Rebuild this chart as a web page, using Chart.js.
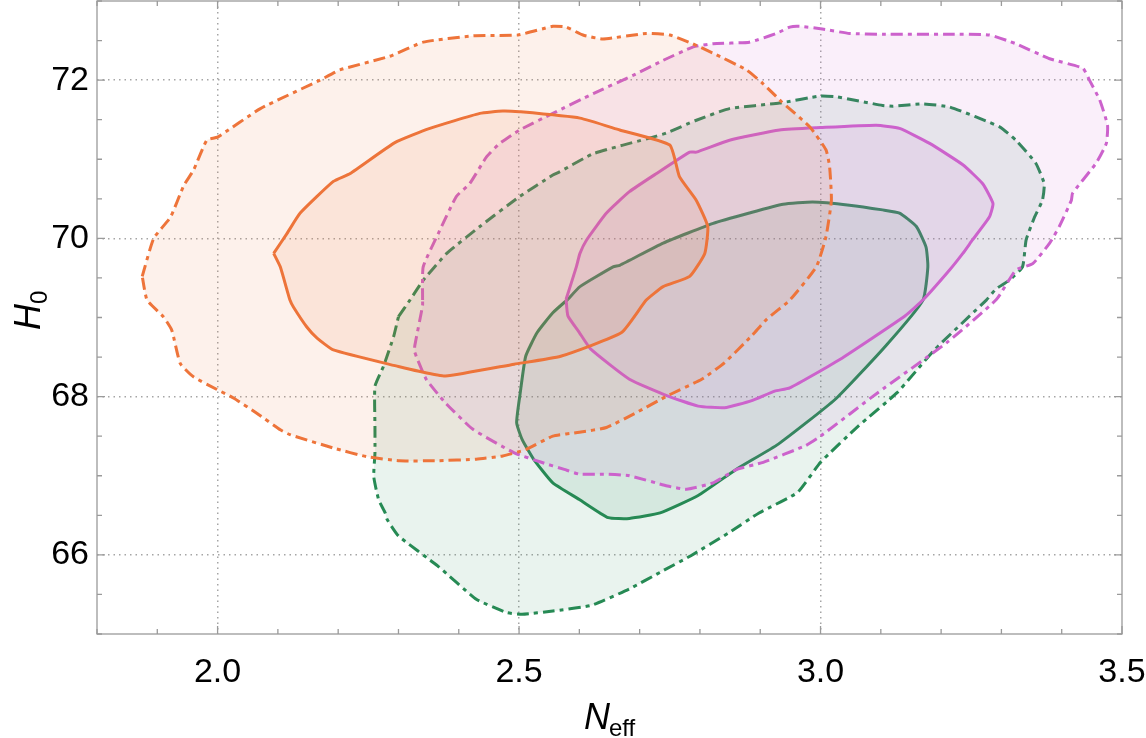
<!DOCTYPE html>
<html>
<head>
<meta charset="utf-8">
<script src="https://cdn.jsdelivr.net/npm/chart.js@4.4.1/dist/chart.umd.min.js"></script>
<style>
    body { margin: 0; background: #fff; }
    #wrap { width: 1146px; height: 738px; position: relative; }
</style>
</head>
<body>
<div id="wrap"><canvas id="contourChart"></canvas></div>
<script>
// Axis ticks (only these get a label and a dotted grid line)
const xTickLabels = ["2.0", "2.5", "3.0", "3.5"];
const yTickLabels = ["66", "68", "70", "72"];

// Contours: N_eff values and H0 values
const orange95N = [1.875, 1.894, 1.922, 1.944, 1.960, 1.982, 2.000, 2.071, 2.170, 2.203, 2.285, 2.341, 2.424, 2.498, 2.556, 2.578, 2.606, 2.639, 2.711, 2.750, 2.788, 2.822, 2.877, 2.904, 2.935, 2.982, 3.009, 3.015, 3.018, 3.009, 2.993, 2.949, 2.911, 2.886, 2.841, 2.803, 2.746, 2.695, 2.645, 2.600, 2.556, 2.511, 2.473, 2.429, 2.365, 2.302, 2.248, 2.192, 2.120, 2.104, 2.065, 2.027, 1.999, 1.960, 1.938, 1.924, 1.910, 1.883];
const orange95H = [69.52, 70.00, 70.27, 70.67, 70.86, 71.24, 71.28, 71.64, 72.00, 72.13, 72.30, 72.48, 72.56, 72.57, 72.68, 72.67, 72.57, 72.52, 72.59, 72.57, 72.46, 72.34, 72.13, 71.96, 71.73, 71.41, 71.12, 70.91, 70.48, 70.02, 69.64, 69.22, 68.98, 68.77, 68.43, 68.22, 68.01, 67.80, 67.61, 67.55, 67.50, 67.33, 67.25, 67.21, 67.19, 67.19, 67.24, 67.35, 67.52, 67.58, 67.79, 67.98, 68.09, 68.25, 68.42, 68.84, 69.01, 69.22];

const orange68N = [2.093, 2.115, 2.137, 2.192, 2.220, 2.294, 2.352, 2.435, 2.473, 2.501, 2.601, 2.667, 2.750, 2.766, 2.794, 2.813, 2.808, 2.783, 2.739, 2.711, 2.670, 2.569, 2.492, 2.378, 2.334, 2.300, 2.192, 2.165, 2.148, 2.126, 2.120, 2.104];
const orange68H = [69.81, 70.06, 70.32, 70.72, 70.82, 71.21, 71.39, 71.58, 71.61, 71.60, 71.52, 71.37, 71.18, 70.78, 70.48, 70.15, 69.81, 69.52, 69.39, 69.22, 68.81, 68.51, 68.41, 68.26, 68.32, 68.38, 68.59, 68.74, 68.88, 69.13, 69.22, 69.64];

const violet95N = [2.340, 2.341, 2.366, 2.396, 2.418, 2.446, 2.468, 2.501, 2.556, 2.623, 2.689, 2.739, 2.789, 2.822, 2.882, 2.927, 2.949, 2.965, 3.000, 3.048, 3.103, 3.214, 3.280, 3.324, 3.380, 3.435, 3.446, 3.463, 3.476, 3.474, 3.457, 3.418, 3.416, 3.396, 3.380, 3.352, 3.324, 3.292, 3.209, 3.095, 3.000, 2.975, 2.905, 2.861, 2.822, 2.778, 2.746, 2.683, 2.645, 2.600, 2.575, 2.537, 2.492, 2.423, 2.378, 2.346, 2.327, 2.327, 2.340];
const violet95H = [69.22, 69.64, 70.06, 70.53, 70.69, 71.03, 71.20, 71.37, 71.58, 71.83, 72.06, 72.25, 72.42, 72.46, 72.48, 72.59, 72.67, 72.68, 72.65, 72.59, 72.58, 72.58, 72.57, 72.46, 72.27, 72.15, 72.00, 71.75, 71.43, 71.20, 70.95, 70.57, 70.48, 70.15, 69.94, 69.68, 69.60, 69.23, 68.68, 68.05, 67.50, 67.38, 67.17, 67.08, 66.91, 66.83, 66.87, 67.00, 67.02, 67.02, 67.08, 67.17, 67.29, 67.59, 67.92, 68.22, 68.56, 68.64, 69.15];

const violet68N = [2.578, 2.595, 2.601, 2.612, 2.645, 2.683, 2.728, 2.783, 2.794, 2.849, 2.932, 3.000, 3.092, 3.131, 3.181, 3.236, 3.269, 3.286, 3.280, 3.252, 3.236, 3.214, 3.171, 3.140, 3.032, 2.949, 2.924, 2.886, 2.841, 2.797, 2.746, 2.683, 2.619, 2.600, 2.581];
const violet68H = [69.23, 69.64, 69.81, 69.98, 70.32, 70.59, 70.82, 71.09, 71.09, 71.24, 71.37, 71.40, 71.43, 71.39, 71.20, 70.93, 70.69, 70.44, 70.27, 69.98, 69.81, 69.60, 69.23, 69.02, 68.47, 68.11, 68.07, 67.95, 67.86, 67.88, 68.01, 68.22, 68.60, 68.81, 69.02];

const green95N = [2.300, 2.319, 2.341, 2.380, 2.435, 2.501, 2.556, 2.567, 2.623, 2.722, 2.744, 2.793, 2.849, 2.932, 3.000, 3.026, 3.103, 3.120, 3.170, 3.214, 3.297, 3.324, 3.357, 3.371, 3.368, 3.355, 3.341, 3.335, 3.313, 3.291, 3.275, 3.190, 3.127, 3.063, 3.000, 2.962, 2.898, 2.848, 2.785, 2.734, 2.683, 2.619, 2.556, 2.505, 2.480, 2.429, 2.365, 2.300, 2.281, 2.278, 2.267, 2.259, 2.261, 2.261, 2.261, 2.275, 2.292];
const green95H = [69.01, 69.22, 69.47, 69.81, 70.15, 70.53, 70.80, 70.84, 71.07, 71.28, 71.33, 71.49, 71.64, 71.71, 71.80, 71.79, 71.68, 71.67, 71.70, 71.66, 71.41, 71.24, 70.95, 70.69, 70.48, 70.27, 69.98, 69.64, 69.47, 69.36, 69.22, 68.60, 68.05, 67.63, 67.17, 66.79, 66.53, 66.28, 65.99, 65.78, 65.57, 65.36, 65.29, 65.25, 65.27, 65.44, 65.86, 66.24, 66.45, 66.53, 66.70, 66.99, 67.29, 67.62, 68.13, 68.38, 68.76];

const green68N = [2.581, 2.601, 2.656, 2.667, 2.739, 2.822, 2.882, 2.938, 2.987, 3.048, 3.103, 3.131, 3.159, 3.175, 3.178, 3.170, 3.108, 3.025, 2.930, 2.860, 2.797, 2.734, 2.683, 2.648, 2.600, 2.556, 2.524, 2.505, 2.496, 2.502, 2.511, 2.530, 2.556];
const green68H = [69.23, 69.39, 69.64, 69.66, 69.94, 70.19, 70.32, 70.43, 70.46, 70.42, 70.36, 70.32, 70.15, 69.89, 69.64, 69.22, 68.64, 67.97, 67.40, 67.08, 66.75, 66.53, 66.46, 66.47, 66.70, 66.91, 67.21, 67.46, 67.67, 68.05, 68.51, 68.81, 69.06];

const ORANGE = "rgb(238,116,58)";
const VIOLET = "rgb(204,98,204)";
const GREEN = "rgb(38,138,84)";
const DASHDOT = [12, 5, 4, 5];

// closed outline as {x, y} points
function ring(xs, ys) {
    const pts = xs.map((x, i) => ({ x: x, y: ys[i] }));
    pts.push({ x: xs[0], y: ys[0] });
    return pts;
}

function fade(rgb, a) {
    return rgb.replace("rgb(", "rgba(").replace(")", "," + a + ")");
}

function contour(xs, ys, color, dashed) {
    return {
        data: ring(xs, ys),
        showLine: true,
        fill: "shape",
        backgroundColor: fade(color, 0.1),
        borderColor: color,
        borderWidth: 3,
        borderDash: dashed ? DASHDOT : [],
        tension: 0.15,
        pointRadius: 0,
        pointHoverRadius: 0
    };
}

const near = (v, list) => list.some(l => Math.abs(v - Number(l)) < 1e-6);

// frame with inward ticks on all four sides + axis titles
const framePlugin = {
    id: "frame",
    afterDraw(chart) {
        const ctx = chart.ctx;
        const { left, right, top, bottom } = chart.chartArea;
        const xs = chart.scales.x, ys = chart.scales.y;
        ctx.save();
        ctx.strokeStyle = "#9a9a9a";
        ctx.lineWidth = 1.3;
        ctx.strokeRect(left, top, right - left, bottom - top);
        ctx.beginPath();
        for (let i = 18; i <= 35; i++) {
            const v = i / 10;
            const px = xs.getPixelForValue(v);
            const len = near(v, xTickLabels) ? 8 : 5;
            ctx.moveTo(px, bottom); ctx.lineTo(px, bottom - len);
            ctx.moveTo(px, top); ctx.lineTo(px, top + len);
        }
        for (let i = 130; i <= 146; i++) {
            const v = i / 2;
            const py = ys.getPixelForValue(v);
            const len = near(v, yTickLabels) ? 8 : 5;
            ctx.moveTo(left, py); ctx.lineTo(left + len, py);
            ctx.moveTo(right, py); ctx.lineTo(right - len, py);
        }
        ctx.stroke();

        ctx.fillStyle = "#000";
        ctx.textBaseline = "alphabetic";
        // x title: N_eff
        ctx.font = "italic 36px 'Liberation Sans', Arial, sans-serif";
        ctx.textAlign = "left";
        const nW = ctx.measureText("N").width;
        ctx.fillText("N", 584, 729);
        ctx.font = "24px 'Liberation Sans', Arial, sans-serif";
        ctx.fillText("eff", 584 + nW - 1, 736);
        // y title: H_0
        ctx.translate(40, 300);
        ctx.rotate(-Math.PI / 2);
        ctx.font = "italic 36px 'Liberation Sans', Arial, sans-serif";
        const hW = ctx.measureText("H").width;
        ctx.fillText("H", -30, 0);
        ctx.font = "24px 'Liberation Sans', Arial, sans-serif";
        ctx.fillText("0", -30 + hW, 7);
        ctx.restore();
    }
};

const tickFont = { family: "'Liberation Sans', Arial, sans-serif", size: 34 };

new Chart(document.getElementById("contourChart"), {
    type: "scatter",
    data: {
        datasets: [
            contour(orange95N, orange95H, ORANGE, true),
            contour(orange68N, orange68H, ORANGE, false),
            contour(violet95N, violet95H, VIOLET, true),
            contour(violet68N, violet68H, VIOLET, false),
            contour(green95N, green95H, GREEN, true),
            contour(green68N, green68H, GREEN, false)
        ]
    },
    options: {
        responsive: true,
        maintainAspectRatio: false,
        animation: false,
        layout: { padding: { top: 1, right: 24, left: 0, bottom: 0 } },
        plugins: { legend: { display: false }, tooltip: { enabled: false } },
        scales: {
            x: {
                type: "linear",
                min: 1.8,
                max: 3.5,
                afterFit: s => {
                    s.height = 104;
                    s.paddingLeft = 0; s.paddingRight = 0;
                },
                ticks: {
                    stepSize: 0.1,
                    autoSkip: false,
                    maxRotation: 0,
                    padding: 18,
                    color: "#000",
                    font: tickFont,
                    callback: v => {
                        const s = (Math.round(v * 10) / 10).toFixed(1);
                        return xTickLabels.includes(s) ? s : "";
                    }
                },
                grid: {
                    drawTicks: false,
                    lineWidth: 1.5,
                    color: c => {
                        const s = (Math.round(c.tick.value * 10) / 10).toFixed(1);
                        return xTickLabels.includes(s) && s !== "3.5" ? "#a5a5a5" : "rgba(0,0,0,0)";
                    }
                },
                border: { display: false, dash: [1.5, 4] }
            },
            y: {
                type: "linear",
                min: 65,
                max: 73,
                afterFit: s => {
                    s.width = 97;
                    s.paddingTop = 0; s.paddingBottom = 0;
                },
                ticks: {
                    stepSize: 0.5,
                    autoSkip: false,
                    padding: 8,
                    color: "#000",
                    font: tickFont,
                    callback: v => yTickLabels.includes(String(v)) ? String(v) : ""
                },
                grid: {
                    drawTicks: false,
                    lineWidth: 1.5,
                    color: c => yTickLabels.includes(String(c.tick.value)) ? "#a5a5a5" : "rgba(0,0,0,0)"
                },
                border: { display: false, dash: [1.5, 4] }
            }
        }
    },
    plugins: [framePlugin]
});
</script>
</body>
</html>
